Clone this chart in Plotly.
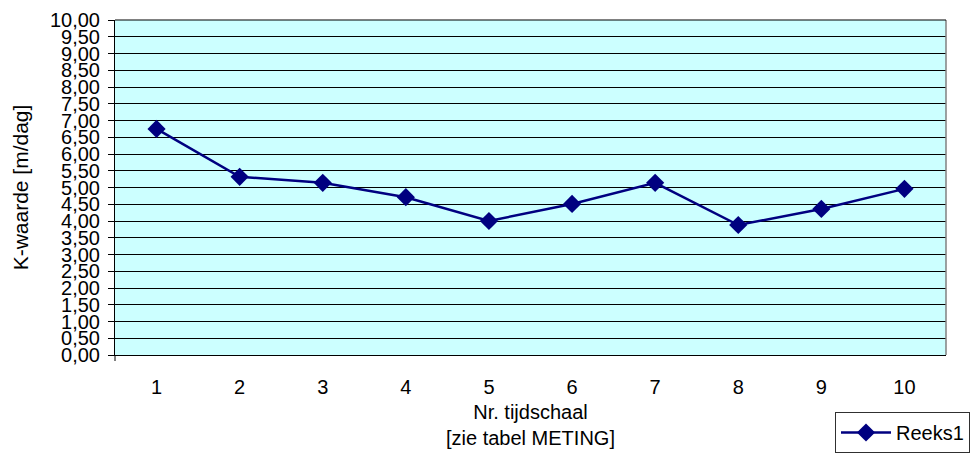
import plotly.graph_objects as go

categories = [1, 2, 3, 4, 5, 6, 7, 8, 9, 10]
k_values = [6.75, 5.32, 5.14, 4.71, 4.00, 4.51, 5.14, 3.88, 4.36, 4.96]
series_name = "Reeks1"
y_title = "K-waarde [m/dag]"
x_title = "Nr. tijdschaal<br>[zie tabel METING]"

FONT = "Liberation Sans, Arial, sans-serif"
W, H = 980, 453
ML, MR, MT, MB = 115, 34, 20, 98
PH = H - MT - MB

fig = go.Figure()
fig.add_trace(go.Scatter(
    x=categories, y=k_values, mode="lines+markers", name=series_name,
    line=dict(color="#000080", width=2.5),
    marker=dict(symbol="diamond", size=14, color="#000080"),
))

fig.update_layout(
    width=W, height=H,
    margin=dict(l=ML, r=MR, t=MT, b=MB, pad=0, autoexpand=False),
    paper_bgcolor="white",
    plot_bgcolor="#CCFFFF",
    separators=",.",
    font=dict(family=FONT, size=20, color="black"),
    showlegend=True,
    legend=dict(
        xref="container", yref="container",
        x=835 / W, y=1 - 412 / H,
        xanchor="left", yanchor="top",
        bordercolor="#303030", borderwidth=1, bgcolor="white",
        font=dict(family=FONT, size=20),
        itemwidth=50,
    ),
    xaxis=dict(
        range=[0.5, 10.5], tickvals=categories, ticktext=[str(c) for c in categories],
        showgrid=False, zeroline=False, showline=True, linecolor="black", linewidth=1,
        mirror=False, ticks="", ticklabelstandoff=14, automargin=False,
        tickfont=dict(size=20),
    ),
    yaxis=dict(
        range=[0, 10], dtick=0.5, tick0=0, tickformat=".2f",
        showgrid=True, gridcolor="black", gridwidth=1, zeroline=False,
        showline=True, linecolor="black", linewidth=1, automargin=False,
        ticks="outside", ticklen=6, tickcolor="black", ticklabelstandoff=4,
        title=dict(text=y_title, standoff=15, font=dict(size=21)),
        tickfont=dict(size=20),
    ),
)

fig.add_annotation(
    text=x_title, xref="paper", yref="paper", x=0.5, y=-(425 - (H - MB)) / PH,
    xanchor="center", yanchor="middle", showarrow=False, align="center",
    font=dict(family=FONT, size=20, color="black"),
)

# gray right border of plot area
fig.add_shape(type="line", xref="paper", yref="paper", x0=1, x1=1, y0=0, y1=1,
              line=dict(color="#808080", width=1.5))
# top border
fig.add_shape(type="line", xref="paper", yref="paper", x0=0, x1=1, y0=1, y1=1,
              line=dict(color="black", width=1))
# small extension of the y axis below the plot area
fig.add_shape(type="line", xref="paper", yref="paper", x0=0, x1=0, y0=0, y1=-6 / PH,
              line=dict(color="black", width=1))

fig.write_html("out.html")
